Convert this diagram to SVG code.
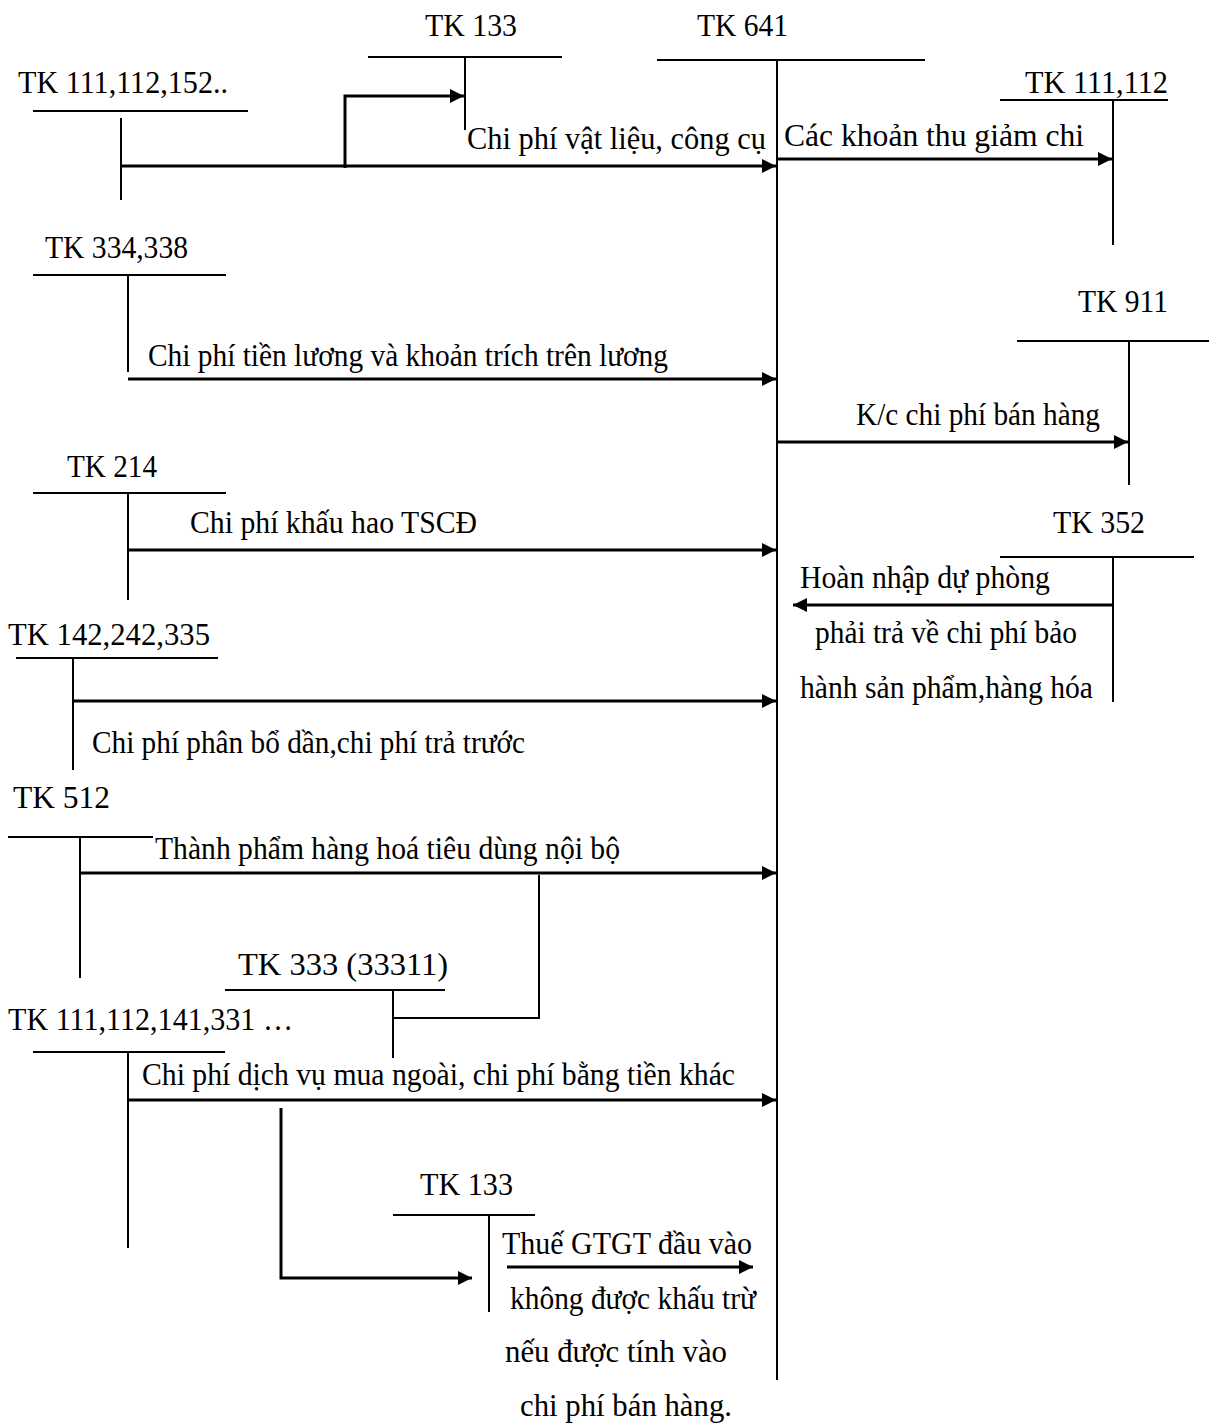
<svg xmlns="http://www.w3.org/2000/svg" width="1209" height="1425" viewBox="0 0 1209 1425">
<style>
text{font-family:"Liberation Serif","Times New Roman",serif;font-size:32px;fill:#000}
.t{stroke:#000;stroke-width:2;fill:none}
.ar{stroke:#000;stroke-width:3;fill:none;marker-end:url(#ah)}
</style>
<defs>
<marker id="ah" markerUnits="userSpaceOnUse" markerWidth="14" markerHeight="14" refX="14" refY="7" orient="auto"><path d="M0,0 L14,7 L0,14 z" fill="#000"/></marker>
</defs>
<rect width="1209" height="1425" fill="#fff"/>
<g id="tk641"><text x="697" y="36" textLength="91" lengthAdjust="spacingAndGlyphs">TK 641</text><line class="t" x1="657" y1="60" x2="925" y2="60"/><line class="t" x1="777" y1="60" x2="777" y2="1380"/></g>
<g id="tk133top"><text x="425" y="36" textLength="92" lengthAdjust="spacingAndGlyphs">TK 133</text><line class="t" x1="368" y1="57" x2="562" y2="57"/><line class="t" x1="465" y1="57" x2="465" y2="130"/></g>
<g id="tk111a"><text x="18" y="93" textLength="210" lengthAdjust="spacingAndGlyphs">TK 111,112,152..</text><line class="t" x1="33" y1="111" x2="248" y2="111"/><line class="t" x1="121" y1="118" x2="121" y2="200"/></g>
<g id="tk111b"><text x="1025" y="93" textLength="143" lengthAdjust="spacingAndGlyphs">TK 111,112</text><line class="t" x1="1000" y1="100" x2="1168" y2="100"/><line class="t" x1="1113" y1="100" x2="1113" y2="245"/></g>
<g id="tk334"><text x="45" y="258" textLength="143" lengthAdjust="spacingAndGlyphs">TK 334,338</text><line class="t" x1="33" y1="275" x2="226" y2="275"/><line class="t" x1="128" y1="275" x2="128" y2="372"/></g>
<g id="tk911"><text x="1078" y="312" textLength="90" lengthAdjust="spacingAndGlyphs">TK 911</text><line class="t" x1="1017" y1="341" x2="1209" y2="341"/><line class="t" x1="1129" y1="341" x2="1129" y2="485"/></g>
<g id="tk214"><text x="67" y="477" textLength="90" lengthAdjust="spacingAndGlyphs">TK 214</text><line class="t" x1="33" y1="493" x2="226" y2="493"/><line class="t" x1="128" y1="493" x2="128" y2="600"/></g>
<g id="tk352"><text x="1053" y="533" textLength="92" lengthAdjust="spacingAndGlyphs">TK 352</text><line class="t" x1="1000" y1="557" x2="1194" y2="557"/><line class="t" x1="1113" y1="557" x2="1113" y2="702"/></g>
<g id="tk142"><text x="8" y="645" textLength="202" lengthAdjust="spacingAndGlyphs">TK 142,242,335</text><line class="t" x1="16" y1="658" x2="218" y2="658"/><line class="t" x1="73" y1="658" x2="73" y2="770"/></g>
<g id="tk512"><text x="13" y="808" textLength="97" lengthAdjust="spacingAndGlyphs">TK 512</text><line class="t" x1="8" y1="837" x2="153" y2="837"/><line class="t" x1="80" y1="837" x2="80" y2="978"/></g>
<g id="tk333"><text x="238" y="975" textLength="210" lengthAdjust="spacingAndGlyphs">TK 333 (33311)</text><line class="t" x1="225" y1="990" x2="445" y2="990"/><line class="t" x1="393" y1="990" x2="393" y2="1058"/></g>
<g id="tk111c"><text x="8" y="1030" textLength="285" lengthAdjust="spacingAndGlyphs">TK 111,112,141,331 …</text><line class="t" x1="33" y1="1052" x2="225" y2="1052"/><line class="t" x1="128" y1="1052" x2="128" y2="1248"/></g>
<g id="tk133bot"><text x="420" y="1195" textLength="93" lengthAdjust="spacingAndGlyphs">TK 133</text><line class="t" x1="393" y1="1215" x2="535" y2="1215"/><line class="t" x1="489" y1="1215" x2="489" y2="1312"/></g>
<g id="connectors">
<line class="ar" x1="121" y1="166" x2="776" y2="166"/>
<polyline class="ar" points="345,168 345,96 464,96"/>
<line class="ar" x1="777" y1="159" x2="1112" y2="159"/>
<line class="ar" x1="128" y1="379" x2="776" y2="379"/>
<line class="ar" x1="777" y1="442" x2="1128" y2="442"/>
<line class="ar" x1="128" y1="550" x2="776" y2="550"/>
<line class="ar" x1="1113" y1="605" x2="793" y2="605"/>
<line class="ar" x1="73" y1="701" x2="776" y2="701"/>
<line class="ar" x1="80" y1="873" x2="776" y2="873"/>
<polyline class="t" points="539,875 539,1018 393,1018"/>
<line class="ar" x1="128" y1="1100" x2="776" y2="1100"/>
<polyline class="ar" points="281,1108 281,1278 472,1278"/>
<line class="ar" x1="507" y1="1267" x2="753" y2="1267"/>
</g>
<g id="labels">
<text x="467" y="149" textLength="299" lengthAdjust="spacingAndGlyphs">Chi phí vật liệu, công cụ</text>
<text x="784" y="146" textLength="300" lengthAdjust="spacingAndGlyphs">Các khoản thu giảm chi</text>
<text x="148" y="366" textLength="520" lengthAdjust="spacingAndGlyphs">Chi phí tiền lương và khoản trích trên lương</text>
<text x="856" y="425" textLength="244" lengthAdjust="spacingAndGlyphs">K/c chi phí bán hàng</text>
<text x="190" y="533" textLength="287" lengthAdjust="spacingAndGlyphs">Chi phí khấu hao TSCĐ</text>
<text x="800" y="588" textLength="250" lengthAdjust="spacingAndGlyphs">Hoàn nhập dự phòng</text>
<text x="815" y="643" textLength="262" lengthAdjust="spacingAndGlyphs">phải trả về chi phí bảo</text>
<text x="800" y="698" textLength="293" lengthAdjust="spacingAndGlyphs">hành sản phẩm,hàng hóa</text>
<text x="92" y="753" textLength="433" lengthAdjust="spacingAndGlyphs">Chi phí phân bổ dần,chi phí trả trước</text>
<text x="155" y="859" textLength="465" lengthAdjust="spacingAndGlyphs">Thành phẩm hàng hoá tiêu dùng nội bộ</text>
<text x="142" y="1085" textLength="593" lengthAdjust="spacingAndGlyphs">Chi phí dịch vụ mua ngoài, chi phí bằng tiền khác</text>
<text x="502" y="1254" textLength="250" lengthAdjust="spacingAndGlyphs">Thuế GTGT đầu vào</text>
<text x="510" y="1309" textLength="246" lengthAdjust="spacingAndGlyphs">không được khấu trừ</text>
<text x="505" y="1362" textLength="222" lengthAdjust="spacingAndGlyphs">nếu được tính vào</text>
<text x="520" y="1416" textLength="212" lengthAdjust="spacingAndGlyphs">chi phí bán hàng.</text>
</g>
</svg>
